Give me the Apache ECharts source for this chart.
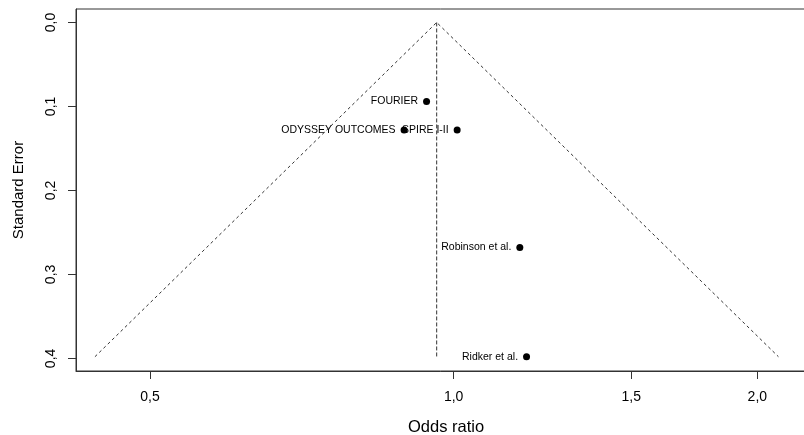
<!DOCTYPE html>
<html>
<head>
<meta charset="utf-8">
<script src="https://cdn.jsdelivr.net/npm/echarts@6/dist/echarts.min.js"></script>
<style>
  html, body { margin: 0; padding: 0; background: #fff; }
  #chart { width: 804px; height: 435px; }
</style>
</head>
<body>
<div id="chart"></div>
<script>
// study estimates
const studies = ['FOURIER', 'ODYSSEY OUTCOMES', 'SPIRE I-II', 'Robinson et al.', 'Ridker et al.']
const oddsRatio = [0.94, 0.893, 1.008, 1.163, 1.181]
const stdError = [0.094, 0.128, 0.128, 0.268, 0.398]
const pooledOR = 0.962
const xTicks = [0.5, 1.0, 1.5, 2.0]
const yTicks = [0, 0.1, 0.2, 0.3, 0.4]

const FONT = 'Liberation Sans, Arial, sans-serif'
const ln = Math.log
const fmt = v => v.toFixed(1).replace('.', ',')

const seMax = Math.max(...stdError)
const center = ln(pooledOR)
const funnel = [
  [center - 1.96 * seMax, seMax],
  [center, 0],
  [center + 1.96 * seMax, seMax],
]
const midLine = [[center, 0], [center, seMax]]

const dashed = { color: '#333', width: 1, type: [3, 3] }

const chart = echarts.init(document.getElementById('chart'), null, { renderer: 'canvas' })
chart.setOption({
  animation: false,
  backgroundColor: '#fff',
  textStyle: { fontFamily: FONT },
  grid: {
    left: 76, top: 9, width: 740, height: 362,
    outerBoundsMode: 'none', containLabel: false,
    show: true, borderColor: '#333', borderWidth: 1,
  },
  xAxis: {
    type: 'value',
    min: ln(0.4223),
    max: ln(0.4223) + 740 / 438.1,
    name: 'Odds ratio',
    nameLocation: 'middle',
    nameGap: 48,
    nameTextStyle: { color: '#000', fontSize: 16.5, fontFamily: FONT },
    axisLine: { show: true, onZero: false, lineStyle: { color: '#333' } },
    axisTick: { show: true, length: 8, customValues: xTicks.map(ln), lineStyle: { color: '#333' } },
    axisLabel: {
      customValues: xTicks.map(ln),
      formatter: v => fmt(Math.exp(v)),
      color: '#000', fontSize: 14, margin: 19, fontFamily: FONT,
    },
    splitLine: { show: false },
  },
  yAxis: {
    type: 'value',
    inverse: true,
    min: -0.016,
    max: 0.415,
    name: 'Standard Error',
    nameLocation: 'middle',
    nameGap: 50,
    nameTextStyle: { color: '#000', fontSize: 15, fontFamily: FONT },
    axisLine: { show: true, onZero: false, lineStyle: { color: '#333' } },
    axisTick: { show: true, length: 8, customValues: yTicks, lineStyle: { color: '#333' } },
    axisLabel: {
      customValues: yTicks,
      formatter: v => fmt(v),
      rotate: 90,
      color: '#000', fontSize: 14, margin: 18, fontFamily: FONT,
    },
    splitLine: { show: false },
  },
  series: [
    {
      type: 'line',
      data: funnel,
      symbol: 'none',
      silent: true,
      lineStyle: dashed,
    },
    {
      type: 'line',
      data: midLine,
      symbol: 'none',
      silent: true,
      lineStyle: { ...dashed, type: [4, 2] },
    },
    {
      type: 'scatter',
      data: studies.map((s, i) => ({ name: s, value: [ln(oddsRatio[i]), stdError[i]] })),
      symbol: 'circle',
      symbolSize: 7,
      itemStyle: { color: '#000', opacity: 1 },
      label: {
        show: true,
        position: 'left',
        distance: 5,
        formatter: p => p.name,
        color: '#000',
        fontSize: 10.5,
        fontFamily: FONT,
      },
    },
  ],
})
</script>
</body>
</html>
